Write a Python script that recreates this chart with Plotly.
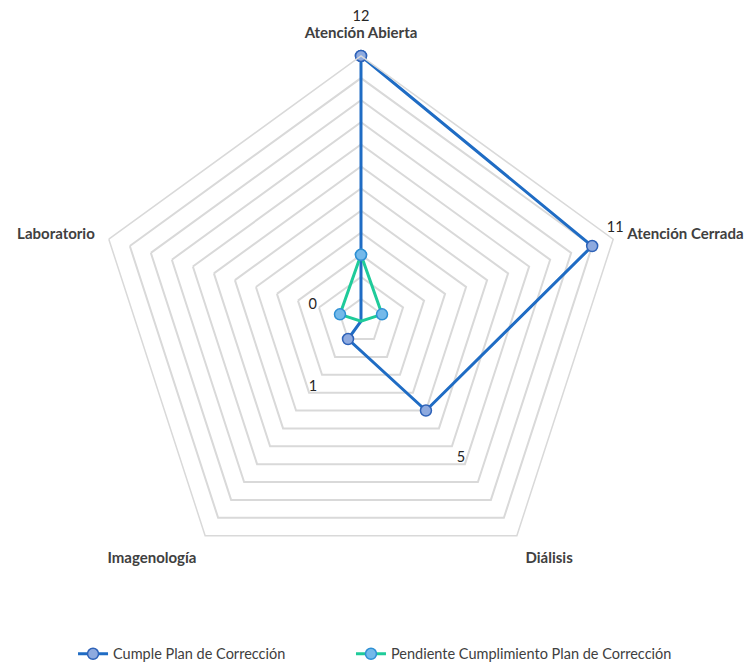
import plotly.graph_objects as go

categories = ["Atención Abierta", "Atención Cerrada", "Diálisis", "Imagenología", "Laboratorio"]
cumple = [12, 11, 5, 1, 0]
pendiente = [3, 1, 0, 0, 1]
series_names = ["Cumple Plan de Corrección", "Pendiente Cumplimiento Plan de Corrección"]

FONT = "Lato, 'Open Sans', sans-serif"
TXT = "#404040"
GRID = "#d9d9d9"

# style: how far (in value units) each data label sits outside its point
LABEL_PAD = [1.75, 1.5, 2.7, 2.7, 2.3]
LABEL_POS = ["middle center", "top left", "middle center", "middle center", "middle center"]

def closed(vals):
    return list(vals) + [vals[0]]

theta_c = closed(categories)

fig = go.Figure()
fig.add_trace(go.Scatterpolar(
    r=closed(cumple), theta=theta_c, name=series_names[0],
    mode="lines+markers",
    line=dict(color="#1f6cc4", width=3),
    marker=dict(size=11, color="#8eaadf", line=dict(color="#2e62b8", width=1.5)),
    cliponaxis=False, legend="legend",
))
fig.add_trace(go.Scatterpolar(
    r=closed(pendiente), theta=theta_c, name=series_names[1],
    mode="lines+markers",
    line=dict(color="#1fcb9a", width=3),
    marker=dict(size=11, color="#74b9ea", line=dict(color="#2e90d4", width=1.5)),
    cliponaxis=False, legend="legend2",
))
# data labels for the first series on an overlaid, invisible polar with the same scale
fig.add_trace(go.Scatterpolar(
    r=[v + p for v, p in zip(cumple, LABEL_PAD)], theta=categories, subplot="polar2",
    mode="text", text=[str(v) for v in cumple],
    textposition=LABEL_POS,
    textfont=dict(family=FONT, size=14.5, color="#262626"),
    showlegend=False, hoverinfo="skip", cliponaxis=False,
))

W, H = 749, 670
cx, cy, unit = 361, 327, 22.5
R = 12 * unit
R2 = 14 * unit

def dom(rad):
    return dict(x=[(cx - rad) / W, (cx + rad) / W], y=[(H - cy - rad) / H, (H - cy + rad) / H])

ang_common = dict(direction="clockwise", rotation=90, type="category",
                  categoryorder="array", categoryarray=categories)

leg_common = dict(orientation="h", xanchor="left", y=-0.018, yanchor="bottom",
                  font=dict(family=FONT, size=14.5, color=TXT), bgcolor="rgba(0,0,0,0)")

fig.update_layout(
    width=W, height=H,
    margin=dict(l=0, r=0, t=0, b=0),
    paper_bgcolor="white",
    font=dict(family=FONT, color=TXT),
    polar=dict(
        domain=dom(R),
        bgcolor="white",
        gridshape="linear",
        radialaxis=dict(range=[0, 12], dtick=1, showticklabels=False, ticks="",
                        showline=False, gridcolor=GRID, gridwidth=1.5),
        angularaxis=dict(**ang_common, showgrid=False,
                         showline=True, linecolor=GRID, linewidth=1.5,
                         ticks="outside", ticklen=11, tickcolor="rgba(0,0,0,0)",
                         tickfont=dict(family=FONT, size=15, color=TXT, weight="bold")),
    ),
    polar2=dict(
        domain=dom(R2),
        bgcolor="rgba(0,0,0,0)",
        gridshape="linear",
        radialaxis=dict(range=[0, 14], visible=False, showgrid=False),
        angularaxis=dict(**ang_common, showgrid=False, showline=False,
                         showticklabels=False, ticks=""),
    ),
    legend=dict(x=0.0975, **leg_common),
    legend2=dict(x=0.4686, **leg_common),
    showlegend=True,
)

fig.write_html("out.html", config={"displayModeBar": False},
               post_script="document.body.style.margin='0';document.body.style.overflow='hidden';")
